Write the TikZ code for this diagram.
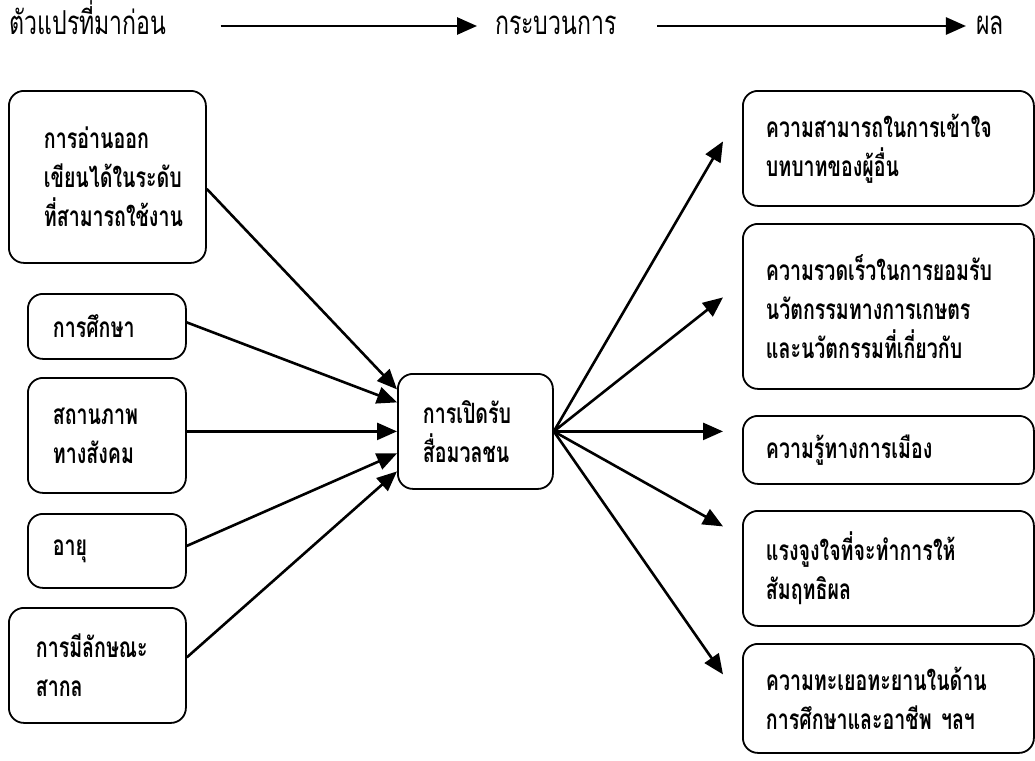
\documentclass[tikz,border=0pt]{standalone}
\usepackage{fontspec}
\newfontfamily\thaifont[Script=Thai,FakeStretch=0.7]{Loma}
\usetikzlibrary{arrows.meta,positioning}
\begin{document}
\begin{tikzpicture}[x=1pt,y=-1pt,>={Triangle[length=20pt,width=17pt]},
  n/.style={draw,line width=1.8pt,rounded corners=15pt,align=left,anchor=north west,inner ysep=0pt,font=\thaifont\bfseries\fontsize{28}{39}\selectfont},
  h/.style={font=\thaifont\fontsize{33}{34}\selectfont,inner sep=0pt,text height=24pt,text depth=6pt},
  a/.style={->,line width=2.6pt}]
\useasboundingbox (0,0) rectangle (1035,760);
\node[h] (pre) at (88,26) {ตัวแปรที่มาก่อน};
\node[h] (proc) at (556,26) {กระบวนการ};
\node[h] (res) at (990,26) {ผล};
\draw[a,shorten <=54pt,shorten >=18pt] (pre) -- (proc);
\draw[a,shorten <=40pt,shorten >=10pt] (proc) -- (res);
\node[n,text width=127pt,inner xsep=35pt,minimum height=172pt] (in1) at (8,90) {การอ่านออก\\เขียนได้ในระดับ\\ที่สามารถใช้งาน};
\node[n,text width=108pt,inner xsep=25pt,minimum height=65pt] (in2) at (27,293) {การศึกษา};
\node[n,text width=108pt,inner xsep=25pt,minimum height=115pt] (in3) at (27,377) {สถานภาพ\\ทางสังคม};
\node[n,text width=108pt,inner xsep=25pt,minimum height=74pt] (in4) at (27,513) {อายุ};
\node[n,text width=123pt,inner xsep=27pt,minimum height=115pt] (in5) at (8,607) {การมีลักษณะ\\สากล};
\node[n,text width=105pt,inner xsep=25pt,minimum height=115pt] (mid) at (397,373) {การเปิดรับ\\สื่อมวลชน};
\node[n,text width=245pt,inner xsep=23pt,minimum height=115pt] (out1) at (742,90) {ความสามารถในการเข้าใจ\\บทบาทของผู้อื่น};
\node[n,text width=245pt,inner xsep=23pt,minimum height=165pt] (out2) at (742,223) {ความรวดเร็วในการยอมรับ\\นวัตกรรมทางการเกษตร\\และนวัตกรรมที่เกี่ยวกับ};
\node[n,text width=245pt,inner xsep=23pt,minimum height=68pt] (out3) at (742,415) {ความรู้ทางการเมือง};
\node[n,text width=245pt,inner xsep=23pt,minimum height=115pt] (out4) at (742,510) {แรงจูงใจที่จะทำการให้\\สัมฤทธิผล};
\node[n,text width=245pt,inner xsep=23pt,minimum height=109pt] (out5) at (742,643) {ความทะเยอทะยานในด้าน\\การศึกษาและอาชีพ ฯลฯ};
\draw[a] ([yshift=-12pt]in1.east) -- ([yshift=42pt]mid.west);
\draw[a] ([yshift=4pt]in2.east) -- ([yshift=29pt]mid.west);
\draw[a] (in3.east |- mid.west) -- (mid.west);
\draw[a] ([yshift=5pt]in4.east) -- ([yshift=-22pt]mid.west);
\draw[a] ([yshift=8pt]in5.east) -- ([yshift=-40pt]mid.west);
\coordinate (t1) at ([xshift=-19pt,yshift=7pt]out1.west);
\coordinate (t2) at ([xshift=-19pt,yshift=9pt]out2.west);
\coordinate (t3) at ([xshift=-19pt]out3.west);
\coordinate (t4) at ([xshift=-19pt,yshift=42pt]out4.west);
\coordinate (t5) at ([xshift=-19pt,yshift=24pt]out5.west);
\draw[a] (mid.east) -- (t1);
\draw[a] (mid.east) -- (t2);
\draw[a] (mid.east) -- (t3 |- mid.east);
\draw[a] (mid.east) -- (t4);
\draw[a] (mid.east) -- (t5);
\end{tikzpicture}
\end{document}
